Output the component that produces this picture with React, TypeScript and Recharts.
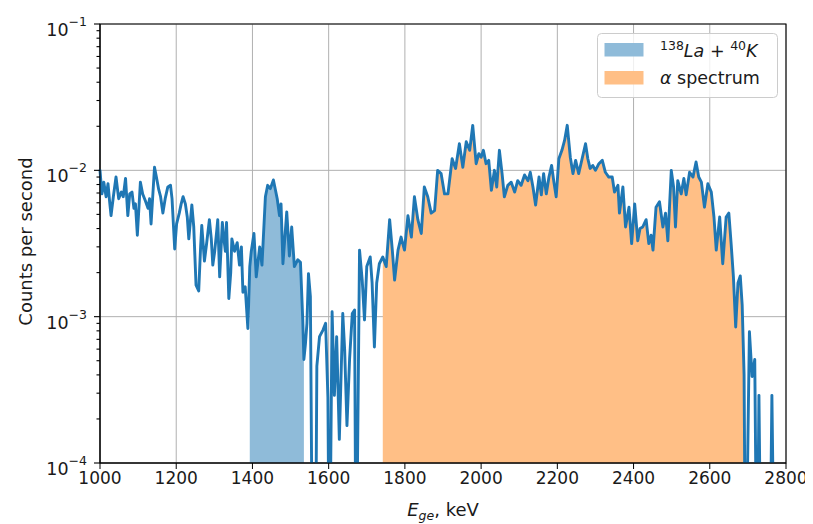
import { ComposedChart, Line, Area, XAxis, YAxis, CartesianGrid, Legend, ReferenceArea, Label } from 'recharts';

// gamma energy, keV
const energyKeV = [
  1000, 1005, 1010, 1016, 1021, 1025, 1029, 1035, 1042, 1049, 1056, 1061, 1067, 1073, 1078, 1084, 1089, 1093, 1098,
  1106, 1112, 1119, 1126, 1130, 1134, 1143, 1148, 1154, 1159, 1165, 1171, 1178, 1185, 1189, 1196, 1201, 1208, 1213,
  1218, 1224, 1229, 1233, 1241, 1246, 1252, 1259, 1264, 1267, 1274, 1280, 1287, 1292, 1296, 1301, 1306, 1309, 1314,
  1321, 1325, 1329, 1332, 1338, 1343, 1346, 1353, 1360, 1366, 1371, 1375, 1381, 1388, 1393, 1397, 1404, 1410, 1419,
  1425, 1434, 1440, 1447, 1455, 1465, 1471, 1475, 1480, 1490, 1497, 1503, 1510, 1519, 1526, 1532, 1535, 1539, 1543,
  1547, 1552, 1558, 1565, 1569, 1576, 1585, 1592, 1598, 1602, 1609, 1615, 1621, 1628, 1637, 1642, 1648, 1655, 1662,
  1668, 1672, 1681, 1688, 1694, 1700, 1709, 1714, 1720, 1726, 1733, 1742, 1751, 1760, 1767, 1773, 1782, 1790, 1799,
  1808, 1817, 1825, 1834, 1843, 1851, 1860, 1869, 1878, 1886, 1895, 1904, 1913, 1924, 1933, 1943, 1952, 1961, 1970,
  1978, 1987, 1994, 2000, 2006, 2013, 2020, 2027, 2035, 2041, 2048, 2055, 2061, 2070, 2079, 2088, 2096, 2105, 2114,
  2123, 2129, 2136, 2143, 2152, 2158, 2164, 2171, 2178, 2185, 2191, 2197, 2204, 2212, 2219, 2226, 2234, 2241, 2248,
  2256, 2265, 2274, 2280, 2286, 2293, 2300, 2309, 2318, 2326, 2335, 2344, 2350, 2359, 2363, 2372, 2379, 2388, 2395,
  2403, 2411, 2417, 2424, 2433, 2440, 2446, 2451, 2459, 2468, 2477, 2484, 2490, 2499, 2505, 2510, 2516, 2525, 2532,
  2538, 2547, 2556, 2564, 2571, 2578, 2586, 2595, 2604, 2611, 2617, 2626, 2634, 2643, 2650, 2656, 2662, 2668, 2674,
  2680, 2685, 2690, 2694, 2704, 2711, 2718, 2724, 2729, 2735, 2757, 2763, 2770,
];

// counts per second; 1e-5 marks empty bins that fall below the axis
const countsPerSecond = [
  1.0e-2, 6.9e-3, 8.3e-3, 6.6e-3, 8.1e-3, 6.2e-3, 4.9e-3, 6.6e-3, 9.0e-3, 6.4e-3, 7.1e-3, 6.6e-3, 8.8e-3, 4.9e-3, 6.9e-3, 7.1e-3, 5.5e-3, 5.9e-3, 3.6e-3,
  8.3e-3, 6.9e-3, 6.2e-3, 5.5e-3, 6.4e-3, 4.3e-3, 1.05e-2, 9.0e-3, 7.4e-3, 6.6e-3, 5.1e-3, 6.4e-3, 7.7e-3, 7.9e-3, 6.4e-3, 2.9e-3, 4.3e-3, 5.1e-3, 5.9e-3,
  6.6e-3, 5.9e-3, 4.8e-3, 3.4e-3, 5.8e-3, 4.1e-3, 1.64e-3, 1.5e-3, 3.0e-3, 4.2e-3, 2.4e-3, 3.2e-3, 4.6e-3, 3.4e-3, 2.25e-3, 2.8e-3, 3.8e-3, 4.6e-3, 1.87e-3,
  4.4e-3, 3.4e-3, 2.8e-3, 4.4e-3, 1.33e-3, 2.0e-3, 3.4e-3, 2.8e-3, 3.2e-3, 2.25e-3, 3.0e-3, 1.47e-3, 1.6e-3, 8.3e-4, 2.2e-3, 2.8e-3, 3.7e-3, 1.87e-3, 3.0e-3,
  2.25e-3, 6.6e-3, 7.9e-3, 7.5e-3, 8.6e-3, 6.4e-3, 4.9e-3, 5.9e-3, 2.3e-3, 5.2e-3, 2.6e-3, 4.1e-3, 2.2e-3, 2.45e-3, 2.35e-3, 9.5e-4, 5.1e-4, 6.5e-4, 9.0e-4,
  1.97e-3, 1.37e-3, 1e-5, 1e-5, 4.6e-4, 7.3e-4, 8.1e-4, 9.0e-4, 2.8e-4, 1e-5, 1.08e-3, 2.9e-4, 7.3e-4, 1.45e-4, 1.05e-3, 5.9e-4, 1.8e-4, 5.2e-4, 1.05e-3,
  1.11e-3, 1e-5, 2.85e-3, 1.78e-3, 9.5e-4, 2.2e-3, 2.56e-3, 1.7e-3, 6.2e-4, 1.7e-3, 2.3e-3, 2.56e-3, 2.2e-3, 4.6e-3, 2.85e-3, 1.78e-3, 2.85e-3, 3.5e-3, 2.85e-3,
  4.9e-3, 3.5e-3, 6.6e-3, 4.6e-3, 3.7e-3, 7.7e-3, 6.6e-3, 5.1e-3, 5.3e-3, 1.0e-2, 9.5e-3, 6.9e-3, 6.9e-3, 1.2e-2, 1.03e-2, 1.52e-2, 1.05e-2, 1.57e-2, 1.37e-2,
  2.03e-2, 1.11e-2, 1.3e-2, 1.23e-2, 1.37e-2, 1.11e-2, 1.17e-2, 7.3e-3, 1.0e-2, 7.7e-3, 1.37e-2, 9.5e-3, 6.6e-3, 7.9e-3, 8.3e-3, 7.1e-3, 8.5e-3, 7.9e-3, 9.3e-3,
  8.5e-3, 9.7e-3, 7.7e-3, 5.8e-3, 9.0e-3, 6.8e-3, 9.5e-3, 6.9e-3, 9.0e-3, 1.08e-2, 8.3e-3, 6.6e-3, 1.2e-2, 1.37e-2, 1.6e-2, 2.03e-2, 1.23e-2, 9.5e-3, 1.17e-2,
  9.5e-3, 1.2e-2, 1.52e-2, 1.2e-2, 1.03e-2, 1.08e-2, 1.0e-2, 1.11e-2, 1.17e-2, 9.7e-3, 9.0e-3, 9.0e-3, 7.1e-3, 7.9e-3, 5.1e-3, 7.7e-3, 4.1e-3, 5.6e-3, 3.16e-3,
  5.9e-3, 3.3e-3, 4.0e-3, 4.1e-3, 4.6e-3, 3.16e-3, 3.6e-3, 2.85e-3, 5.6e-3, 6.1e-3, 4.1e-3, 5.1e-3, 3.3e-3, 1.0e-2, 7.7e-3, 4.1e-3, 8.5e-3, 6.9e-3, 8.8e-3,
  6.8e-3, 9.7e-3, 9.0e-3, 1.14e-2, 9.0e-3, 8.3e-3, 5.6e-3, 8.1e-3, 7.1e-3, 4.8e-3, 2.85e-3, 4.8e-3, 2.3e-3, 4.8e-3, 5.1e-3, 3.16e-3, 1.87e-3, 8.5e-4, 1.7e-3,
  1.9e-3, 1.2e-3, 4.0e-4, 1e-5, 7.9e-4, 3.9e-4, 5.1e-4, 1e-5, 2.9e-4, 1e-5, 1e-5, 2.9e-4, 1e-5,
];

const laKRange = [1393, 1535];
const alphaRange = [1742, 2690];

const xTicks = [1000, 1200, 1400, 1600, 1800, 2000, 2200, 2400, 2600, 2800];
const yMajorTicks = [1e-4, 1e-3, 1e-2, 1e-1];
const yMinorTicks = [
  2e-4, 3e-4, 4e-4, 5e-4, 6e-4, 7e-4, 8e-4, 9e-4,
  2e-3, 3e-3, 4e-3, 5e-3, 6e-3, 7e-3, 8e-3, 9e-3,
  2e-2, 3e-2, 4e-2, 5e-2, 6e-2, 7e-2, 8e-2, 9e-2,
];

const FONT = '"DejaVu Sans", sans-serif';
const LINE_BLUE = '#1f77b4';
const LA_FILL = '#8fbbd9';
const ALPHA_FILL = '#ffbf86';

const data = energyKeV.map((e, i) => {
  const c = countsPerSecond[i];
  return {
    e,
    cps: c,
    laK: e >= laKRange[0] && e <= laKRange[1] ? c : null,
    alpha: e >= alphaRange[0] && e <= alphaRange[1] ? c : null,
  };
});

const YTick = ({ x, y, payload }: any) => {
  const lg = Math.log10(payload.value);
  const exp = Math.round(lg);
  const major = Math.abs(lg - exp) < 1e-6;
  return (
    <g>
      <line x1={x} x2={x - (major ? 6 : 3.5)} y1={y} y2={y} stroke="#000" strokeWidth={1.1} />
      {major && (
        <text x={x - 13} y={y + 12} textAnchor="end" fontSize={17.5} fill="#1a1a1a" fontFamily={FONT}>
          10<tspan dy={-10} fontSize={12.5}>{'\u2212' + Math.abs(exp)}</tspan>
        </text>
      )}
    </g>
  );
};

const XLabel = ({ viewBox }: any) => (
  <text x={viewBox.x + viewBox.width / 2} y={viewBox.y + 53} textAnchor="middle" fontSize={18} fill="#1a1a1a" fontFamily={FONT}>
    <tspan fontStyle="italic">E</tspan>
    <tspan fontStyle="italic" fontSize={12.5} dy={4}>ge</tspan>
    <tspan dy={-4}>, keV</tspan>
  </text>
);

const YLabel = ({ viewBox }: any) => {
  const cx = 17;
  const cy = viewBox.y + viewBox.height / 2 - 2;
  return (
    <text x={cx} y={cy} transform={`rotate(-90 ${cx} ${cy})`} textAnchor="middle" dominantBaseline="central" fontSize={18} fill="#1a1a1a" fontFamily={FONT}>
      Counts per second
    </text>
  );
};

const renderLegend = () => (
  <svg width={182} height={66} style={{ display: 'block' }}>
    <rect x={0.5} y={0.5} width={180} height={64} rx={4} fill="#fff" fillOpacity={0.8} stroke="#cccccc" />
    <rect x={7.5} y={10} width={39} height={13.5} fill={LA_FILL} />
    <rect x={7.5} y={38} width={39} height={13.5} fill={ALPHA_FILL} />
    <text x={63} y={24} fontSize={17.5} fill="#1a1a1a" fontFamily={FONT}>
      <tspan fontSize={12.5} dy={-7}>138</tspan>
      <tspan dy={7} fontStyle="italic">La</tspan>
      <tspan> + </tspan>
      <tspan fontSize={12.5} dy={-7}>40</tspan>
      <tspan dy={7} fontStyle="italic">K</tspan>
    </text>
    <text x={63} y={50.5} fontSize={17.5} fill="#1a1a1a" fontFamily={FONT}>
      <tspan fontStyle="italic">α</tspan>
      <tspan> spectrum</tspan>
    </text>
  </svg>
);

export default function App() {
  return (
    <div style={{ width: 805, height: 516, fontFamily: FONT }}>
      <ComposedChart width={805} height={516} data={data} margin={{ top: 16, right: 27, left: 0, bottom: 0 }}>
        <XAxis
          dataKey="e"
          type="number"
          domain={[1000, 2800]}
          ticks={xTicks}
          interval={0}
          height={61}
          tickSize={6}
          tickMargin={3}
          stroke="#000"
          tick={{ fontSize: 17, fill: '#1a1a1a', fontFamily: FONT }}
        >
          <Label content={XLabel} />
        </XAxis>
        <YAxis
          scale="log"
          type="number"
          domain={[1e-4, 1e-1]}
          allowDataOverflow
          ticks={[...yMajorTicks, ...yMinorTicks]}
          interval={0}
          width={92}
          tickSize={0}
          tickMargin={0}
          tickLine={false}
          stroke="#000"
          tick={<YTick />}
        >
          <Label content={YLabel} />
        </YAxis>
        <Area
          dataKey="laK"
          type="linear"
          baseValue={1e-4}
          fill={LA_FILL}
          fillOpacity={1}
          stroke="none"
          isAnimationActive={false}
        />
        <Area
          dataKey="alpha"
          type="linear"
          baseValue={1e-4}
          fill={ALPHA_FILL}
          fillOpacity={1}
          stroke="none"
          isAnimationActive={false}
        />
        <CartesianGrid stroke="#b0b0b0" strokeWidth={1} verticalValues={xTicks} horizontalValues={yMajorTicks} />
        <Line
          dataKey="cps"
          type="linear"
          stroke={LINE_BLUE}
          strokeWidth={2.9}
          strokeLinejoin="round"
          strokeLinecap="round"
          dot={false}
          isAnimationActive={false}
        />
        <ReferenceArea x1={1000} x2={2800} y1={1e-4} y2={1e-1} fill="none" stroke="#000" strokeWidth={1.1} />
        <Legend
          layout="vertical"
          verticalAlign="middle"
          align="center"
          content={renderLegend}
          wrapperStyle={{ left: 589, top: 25, width: 182, height: 66 }}
        />
      </ComposedChart>
    </div>
  );
}
